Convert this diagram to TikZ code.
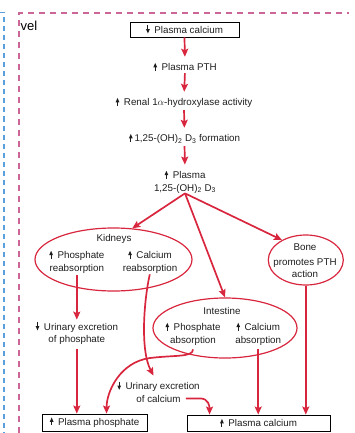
\documentclass[tikz,border=0pt]{standalone}
\usepackage{fontspec}
\setmainfont{Liberation Sans}
\usetikzlibrary{arrows.meta,shapes.geometric,calc}
\definecolor{rd}{RGB}{216,38,62}
\definecolor{pk}{RGB}{204,102,153}
\definecolor{bl}{RGB}{90,160,220}
\definecolor{tx}{RGB}{30,30,30}
\newcommand\uparr{\tikz[baseline=0pt,x=1pt,y=1pt]{\fill[tx] (-0.45,0) rectangle (0.45,4.6); \fill[tx] (-1.9,3.7) -- (1.9,3.7) -- (0,8) -- cycle;}\hspace{1.8pt}}
\newcommand\dnarr{\tikz[baseline=0pt,x=1pt,y=1pt]{\fill[tx] (-0.45,3.4) rectangle (0.45,8); \fill[tx] (-1.9,4.3) -- (1.9,4.3) -- (0,0) -- cycle;}\hspace{1.8pt}}
\begin{document}
\begin{tikzpicture}[x=1pt,y=-1pt,
  txt/.style={font=\fontsize{9.8}{12.3}\selectfont, text=tx, inner sep=0pt, align=center},
  boxn/.style={txt, draw=black, line width=0.9pt},
  ell/.style={ellipse, draw=rd, line width=1.2pt, inner sep=0pt},
  arr/.style={draw=rd, line width=1.7pt, -{Stealth[length=8pt,width=7pt,inset=1.5pt]}},
  chain/.style={arr, shorten <=2pt, shorten >=6pt}]
\useasboundingbox (0,0) rectangle (355,433);
% frames
\draw[bl, line width=1.1pt, dash pattern=on 5pt off 4pt] (0,12.5) -- (4,12.5) -- (4,433);
\draw[pk, line width=1.2pt, dash pattern=on 6pt off 5pt] (19,433) -- (19,13) -- (349,13);
\node[anchor=base west, font=\fontsize{13}{15}\selectfont, inner sep=0pt] (lvl) at (20.5,30.5) {vel};

% main chain
\node[boxn, minimum width=109pt, minimum height=15pt] (cal0) at (184.5,29.5) {\dnarr\ Plasma calcium};
\node[txt] (pth) at (185,67) {\uparr\ Plasma PTH};
\node[txt] (renal) at (184,103) {\uparr\ Renal 1$\alpha$-hydroxylase activity};
\node[txt] (form) at (184.5,139) {\uparr1,25-(OH)\textsubscript{2} D\textsubscript{3} formation};
\node[txt] (plasma) at (185,182) {\uparr\ Plasma\\1,25-(OH)\textsubscript{2} D\textsubscript{3}};

\draw[arr, shorten >=6pt] (cal0.south) -- (pth.north);
\draw[chain] (pth.south) -- (renal.north);
\draw[chain] (renal.south) -- (form.north);
\draw[chain] (form.south) -- (plasma.north);

% kidneys
\node[ell, minimum width=157pt, minimum height=63pt] (kid) at (113.5,259.5) {};
\node[txt] (ktitle) at (114,239) {Kidneys};
\node[txt] (kphos) at (76.8,262) {\uparr\ Phosphate\\reabsorption};
\node[txt] (kcal) at (150,262) {\uparr\ Calcium\\reabsorption};

% bone
\node[ell, minimum width=75pt, minimum height=50pt] (bone) at (305.8,260) {};
\node[txt] (btitle) at (305,247) {Bone};
\node[txt] (btext) at (305,268) {promotes PTH\\action};

% intestine
\node[ell, minimum width=144pt, minimum height=60pt] (int) at (225,328) {};
\node[txt] (ititle) at (222,311) {Intestine};
\node[txt] (iphos) at (193,334) {\uparr\ Phosphate\\absorption};
\node[txt] (ical) at (258.2,334) {\uparr\ Calcium\\absorption};

% urinary
\node[txt] (uphos) at (76.8,333.5) {\dnarr\ Urinary excretion\\of phosphate};
\node[txt] (ucal) at (158.5,392) {\dnarr\ Urinary excretion\\of calcium};

% bottom boxes
\node[boxn, minimum width=105pt, minimum height=17pt] (pphos) at (94.5,422.5) {\uparr\ Plasma phosphate};
\node[boxn, minimum width=143pt, minimum height=16pt] (pcal) at (258.5,423) {\uparr\ Plasma calcium};

% branches
\draw[arr] (plasma.south) -- (kid.59);
\draw[arr] (plasma.south) -- (int.north);
\draw[arr] (plasma.south) -- (bone.140);

\draw[arr, shorten <=2pt, shorten >=2.5pt] (kphos.south) -- (uphos.north);
\draw[arr, shorten <=4pt] (uphos.south) -- (pphos.north -| uphos.south);

\draw[arr, shorten <=1pt] (kcal.south) .. controls (144,300) and (140,350) .. ($(ucal.north)+(-5,-6)$);
\draw[arr] ($(ucal.south east)+(-14,-4)$) -- ++(14,0) .. controls +(9,0) and +(0,-8) .. ($(pcal.north west)+(23,0)$);

\draw[arr, shorten <=4pt] (iphos.south) .. controls +(0,12) and +(25,-3) .. (150,358)
   .. controls +(-30,4) and +(0,-22) .. ($(pphos.north west)+(65,0)$);

\draw[arr, shorten <=4pt] (ical.south) -- (ical.south |- pcal.north);
\draw[arr] (bone.south) -- (bone.south |- pcal.north);
\end{tikzpicture}
\end{document}
